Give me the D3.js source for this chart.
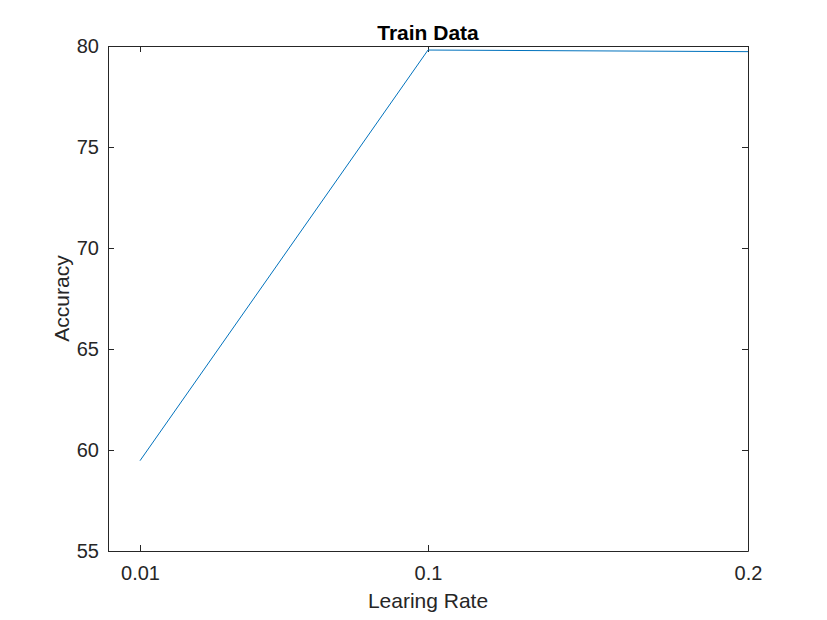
<!DOCTYPE html>
<html><head><meta charset="utf-8">
<script src="https://cdn.jsdelivr.net/npm/d3@7"></script>
<style>body{margin:0;background:#fff;} svg{display:block;}</style>
</head><body>
<svg id="c" width="827" height="620"></svg>
<script>
const learningRates = [0.01, 0.1, 0.2];
const accuracy = [59.47, 79.8, 79.72];
const xTicks = [0.01, 0.1, 0.2];
const xTickLabels = ["0.01", "0.1", "0.2"];
const yTicks = [55, 60, 65, 70, 75, 80];

const svg = d3.select("#c");
const L = 108, R = 748, T = 46, B = 551;
const x = d3.scaleLinear().domain([0, 0.2]).range([L, R]);
const y = d3.scaleLinear().domain([55, 80]).range([B, T]);
const axisColor = "#262626";
const font = "Arial, 'Liberation Sans', Helvetica, sans-serif";

svg.append("rect").attr("x", L).attr("y", T).attr("width", R - L).attr("height", B - T)
  .attr("fill", "#fff").attr("stroke", "none");

const xAxis = svg.append("g").attr("transform", `translate(0,${B})`)
  .call(d3.axisBottom(x).tickValues(xTicks).tickFormat((d, i) => xTickLabels[i]).tickSizeInner(-6).tickSizeOuter(0).tickPadding(15));
const xAxisTop = svg.append("g").attr("transform", `translate(0,${T})`)
  .call(d3.axisTop(x).tickValues(xTicks).tickFormat("").tickSizeInner(-6).tickSizeOuter(0));
const yAxis = svg.append("g").attr("transform", `translate(${L},0)`)
  .call(d3.axisLeft(y).tickValues(yTicks).tickSizeInner(-6).tickSizeOuter(0).tickPadding(9));
const yAxisR = svg.append("g").attr("transform", `translate(${R},0)`)
  .call(d3.axisRight(y).tickValues(yTicks).tickFormat("").tickSizeInner(-6).tickSizeOuter(0));

[xAxis, xAxisTop, yAxis, yAxisR].forEach(g => {
  g.selectAll("path.domain").attr("stroke", axisColor).attr("stroke-width", 1);
  g.selectAll(".tick line").attr("stroke", axisColor).attr("stroke-width", 1);
  g.selectAll("text").attr("fill", "#262626").style("font-family", font).style("font-size", "20px");
});

svg.append("path")
  .datum(learningRates.map((d, i) => [d, accuracy[i]]))
  .attr("fill", "none").attr("stroke", "#0072BD").attr("stroke-width", 1)
  .attr("d", d3.line().x(d => x(d[0])).y(d => y(d[1])));

svg.append("text").attr("x", (L + R) / 2).attr("y", 40).attr("text-anchor", "middle")
  .style("font-family", font).style("font-size", "21px").style("font-weight", "bold")
  .attr("fill", "#000").text("Train Data");

svg.append("text").attr("x", (L + R) / 2).attr("y", 608).attr("text-anchor", "middle")
  .style("font-family", font).style("font-size", "21px").attr("fill", "#262626").text("Learing Rate");

svg.append("text").attr("transform", `translate(69,${(T + B) / 2}) rotate(-90)`).attr("text-anchor", "middle")
  .style("font-family", font).style("font-size", "21px").attr("fill", "#262626").text("Accuracy");
</script>
</body></html>
